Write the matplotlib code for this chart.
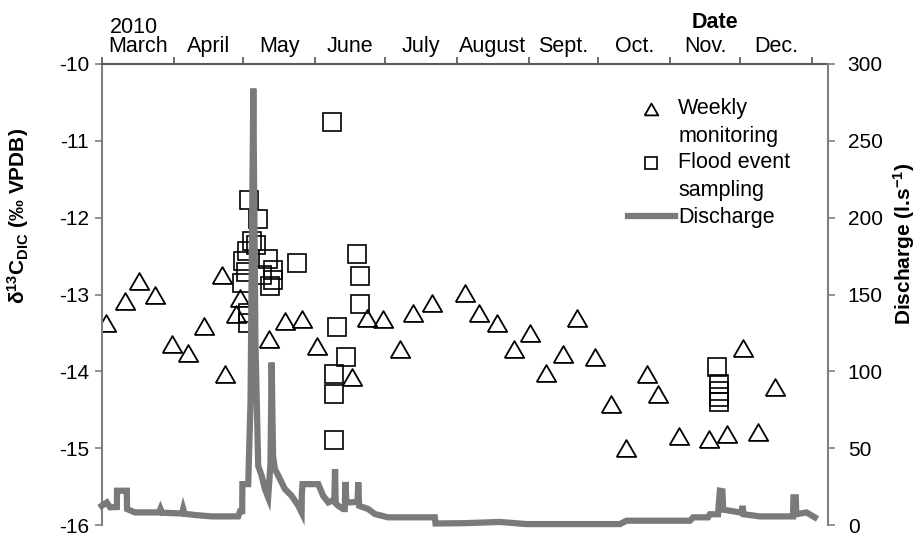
import numpy as np
import pandas as pd
import matplotlib
matplotlib.use("Agg")
import matplotlib.pyplot as plt
from matplotlib.legend_handler import HandlerLine2D

plt.rcParams['font.family'] = ['Liberation Sans', 'DejaVu Sans']
plt.rcParams['axes.unicode_minus'] = False
plt.rcParams['mathtext.fontset'] = 'custom'
plt.rcParams['mathtext.rm'] = 'Liberation Sans'
plt.rcParams['mathtext.bf'] = 'Liberation Sans:bold'
plt.rcParams['mathtext.it'] = 'Liberation Sans:italic'

# days after 1 March 2010
start = pd.Timestamp('2010-03-01')
end_day = 313

weekly_day = [1.9, 10.0, 16.2, 23.0, 30.2, 37.0, 44.2, 51.7, 53.1, 57.7, 59.6,
              72.2, 78.9, 86.1, 92.6, 107.7, 114.1, 121.0, 128.5, 134.2, 142.1,
              156.5, 162.5, 170.4, 177.6, 184.5, 191.6, 198.5, 204.6, 212.4,
              219.6, 225.8, 234.7, 239.7, 248.6, 261.7, 269.2, 276.1, 282.8, 290.0]
weekly_d13c = [-13.37, -13.09, -12.82, -13.00, -13.65, -13.76, -13.41, -12.74, -14.04,
               -13.26, -13.04, -13.58, -13.35, -13.32, -13.67, -14.07, -13.30, -13.32,
               -13.71, -13.24, -13.11, -12.98, -13.24, -13.37, -13.71, -13.50, -14.02,
               -13.78, -13.30, -13.81, -14.43, -15.00, -14.04, -14.30, -14.84, -14.88,
               -14.82, -13.69, -14.79, -14.21]

flood_day = [60.3, 61.0, 62.1, 62.4, 63.0, 63.0, 63.6, 64.6, 66.5, 67.2, 69.0,
             71.7, 72.5, 73.9, 73.9, 84.0,
             99.3, 100.0, 100.0, 100.0, 101.2, 105.2, 109.8, 111.2, 111.2,
             264.9, 265.9, 265.9, 265.9, 265.9]
flood_d13c = [-12.85, -12.57, -12.71, -12.44, -13.24, -13.37, -11.77, -12.31, -12.35,
              -12.02, -12.75, -12.54, -12.89, -12.68, -12.81, -12.59,
              -10.75, -14.04, -14.29, -14.89, -13.42, -13.81, -12.47, -12.76, -13.13,
              -13.95, -14.17, -14.26, -14.34, -14.40]

q_day = [0, 2.2, 3.6, 6.5, 6.6, 10.8, 10.9, 14.3, 24.7, 25.3, 26.0, 34.6, 35.1, 35.7,
         40.2, 47.4, 58.8, 59.6, 60.5, 60.6, 63.1, 64.1, 65.3, 66.2, 67.4, 68.9, 70.3,
         71.7, 72.7, 73.2, 73.8, 74.6, 76.1, 78.9, 81.8, 84.7, 86.1, 86.2, 86.5, 93.3,
         95.4, 97.6, 99.6, 100.2, 100.5, 100.8, 101.9, 104.0, 104.7, 105.0, 105.4, 106.9,
         109.5, 110.2, 110.5, 110.9, 114.8, 117.7, 123.4, 143.5, 143.8, 156.5, 171.5,
         183.0, 223.2, 226.1, 253.4, 254.8, 261.2, 262.0, 265.5, 266.3, 267.4, 267.7,
         274.9, 275.8, 276.1, 276.5, 283.5, 292.1, 297.8, 298.0, 299.0, 299.2, 303.6,
         307.2]
q_value = [12.5, 14.7, 11.5, 11.7, 22.3, 22.3, 10.4, 8.2, 8.2, 10.5, 8.0, 7.5, 10.5, 7.3,
           6.5, 5.6, 5.6, 9.0, 9.0, 26.6, 26.6, 80, 284, 120, 38.5, 32, 23.4,
           18, 40, 105.7, 45, 36.4, 32, 23.4, 19, 12.5, 8.2, 20, 26.6, 26.6,
           19, 14.7, 16, 16, 36.4, 14, 12.5, 10.4, 10.4, 28, 15, 14.7,
           15, 15, 27.7, 12.5, 10.4, 7.1, 5, 5, 1.0, 1.2, 2.0,
           0.6, 0.6, 2.8, 2.8, 5, 5, 7, 7, 22.3, 22, 10,
           8.2, 8.2, 12.5, 7, 5.6, 5.6, 5.6, 18, 18, 7, 8.2,
           5]

month_labels = ['March', 'April', 'May', 'June', 'July', 'August', 'Sept.', 'Oct.',
                'Nov.', 'Dec.']


def to_date(days):
    return start + pd.to_timedelta(np.asarray(days), unit='D')


class RaisedHandler(HandlerLine2D):
    # put the marker level with the first line of a two-line label
    def create_artists(self, legend, orig_handle, xdescent, ydescent, width, height,
                       fontsize, trans):
        arts = super().create_artists(legend, orig_handle, xdescent, ydescent, width,
                                      height, fontsize, trans)
        for a in arts:
            a.set_ydata(np.asarray(a.get_ydata()) + 0.64 * fontsize)
        return arts


fs = 15
fig = plt.figure(figsize=(9.19, 5.36), dpi=100)
ax = fig.add_axes([0.1107, 0.0205, 0.7906, 0.8601])
ax2 = ax.twinx()

tri = [(-1, -0.866), (1, -0.866), (0, 0.866), (-1, -0.866)]
h_tri, = ax.plot(to_date(weekly_day), weekly_d13c, linestyle='none', marker=tri,
                 markersize=14, markerfacecolor='none', markeredgecolor='black',
                 markeredgewidth=1.3)
h_sq, = ax.plot(to_date(flood_day), flood_d13c, linestyle='none', marker='s',
                markersize=13, markerfacecolor='none', markeredgecolor='black',
                markeredgewidth=1.2)
h_q, = ax2.plot(to_date(q_day), q_value, color='#7a7a7a', linewidth=4.5,
                solid_joinstyle='miter', clip_on=False)

ax.set_ylim(-16, -10)
ax.set_yticks(range(-16, -9))
ax2.set_ylim(0, 300)
ax2.set_yticks(range(0, 301, 50))
ax.set_xlim(start, start + pd.Timedelta(days=end_day))

month_starts = pd.date_range('2010-03-01', '2011-01-01', freq='MS')
mids = month_starts[:-1] + (month_starts[1:] - month_starts[:-1]) / 2
ax.set_xticks(month_starts)
ax.set_xticklabels([])
ax.set_xticks(mids, minor=True)
ax.set_xticklabels(month_labels, minor=True)
ax.xaxis.tick_top()
ax.tick_params(axis='x', which='major', direction='out', length=5, width=1.2,
               color='#555555', top=True, bottom=False, labeltop=False)
ax.tick_params(axis='x', which='minor', length=0, pad=5, labelsize=fs + 0.5,
               top=True, bottom=False, labeltop=True, labelbottom=False)
ax.tick_params(axis='y', direction='out', length=5, width=1.2, color='#808080',
               pad=4, labelsize=fs)
ax2.tick_params(axis='y', direction='out', length=5, width=1.2, color='#808080',
                pad=9, labelsize=fs)

for side in ['bottom', 'right']:
    ax.spines[side].set_visible(False)
for side in ['bottom', 'left', 'top']:
    ax2.spines[side].set_visible(False)
ax.spines['left'].set_color('#808080')
ax.spines['left'].set_linewidth(1.5)
ax.spines['top'].set_color('#5a5a5a')
ax.spines['top'].set_linewidth(1.5)
ax2.spines['right'].set_color('#808080')
ax2.spines['right'].set_linewidth(1.5)

ax.set_ylabel(r'$\mathbf{\delta^{13}C_{DIC}}$ (‰ VPDB)', fontsize=fs, fontweight='bold')
ax.yaxis.set_label_coords(-0.097, 0.67)
ax2.set_ylabel(r'Discharge (l.s$^{\mathbf{-1}}$)', fontsize=fs, fontweight='bold')
ax2.yaxis.set_label_coords(1.087, 0.61)

fig.text(110 / 919, 1 - 33 / 536, '2010', fontsize=fs + 0.5, va='baseline', ha='left')
fig.text(715 / 919, 1 - 28 / 536, 'Date', fontsize=fs + 0.5, fontweight='bold',
         va='baseline', ha='center')

leg = ax2.legend([h_tri, h_sq, h_q],
                 ['Weekly\nmonitoring', 'Flood event\nsampling', 'Discharge'],
                 loc='upper left', bbox_to_anchor=(0.724, 0.927), frameon=False,
                 borderpad=0, borderaxespad=0, handlelength=2.2, handletextpad=0.15,
                 labelspacing=0.27, fontsize=fs + 0.5, markerscale=0.7,
                 handler_map={h_tri: RaisedHandler(), h_sq: RaisedHandler()})
for t in leg.get_texts():
    t.set_linespacing(1.43)

fig.savefig('out.png', dpi=100)
